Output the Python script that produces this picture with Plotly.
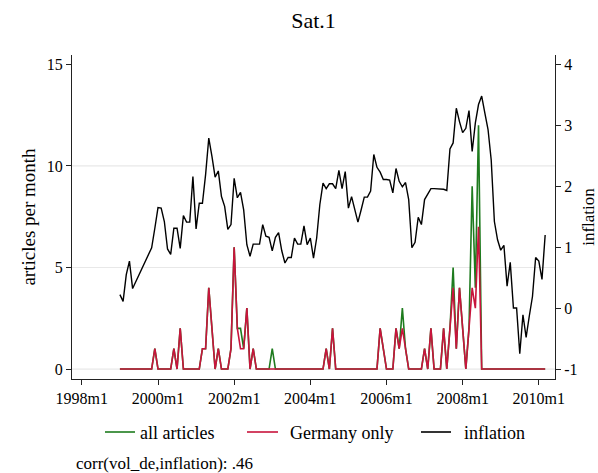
import pandas as pd
import plotly.graph_objects as go

# ---------------- data (monthly, starting 1999m1) ----------------
start_month = "1999-01"

all_articles = [
    0, 0, 0, 0, 0, 0, 0, 0, 0, 0, 0, 1,      # 1999
    0, 0, 0, 0, 0, 1, 0, 2, 0, 0, 0, 0,      # 2000
    0, 0, 1, 1, 4, 2, 0, 1, 0, 0, 0, 1,      # 2001
    6, 2, 2, 1, 3, 0, 1, 0, 0, 0, 0, 0,      # 2002
    1, 0, 0, 0, 0, 0, 0, 0, 0, 0, 0, 0,      # 2003
    0, 0, 0, 0, 0, 1, 0, 2, 0, 0, 0, 0,      # 2004
    0, 0, 0, 0, 0, 0, 0, 0, 0, 0, 2, 1,      # 2005
    0, 0, 0, 2, 1, 3, 1, 0, 0, 0, 0, 0,      # 2006
    1, 0, 2, 0, 0, 0, 2, 0, 2, 5, 1, 4,      # 2007
    2, 0, 2, 9, 4, 12, 0, 0, 0, 0, 0, 0,     # 2008
    0, 0, 0, 0, 0, 0, 0, 0, 0, 0, 0, 0,      # 2009
    0, 0, 0,                                 # 2010
]

germany_only = [
    0, 0, 0, 0, 0, 0, 0, 0, 0, 0, 0, 1,      # 1999
    0, 0, 0, 0, 0, 1, 0, 2, 0, 0, 0, 0,      # 2000
    0, 0, 1, 1, 4, 2, 0, 1, 0, 0, 0, 1,      # 2001
    6, 2, 1, 1, 3, 0, 1, 0, 0, 0, 0, 0,      # 2002
    0, 0, 0, 0, 0, 0, 0, 0, 0, 0, 0, 0,      # 2003
    0, 0, 0, 0, 0, 1, 0, 2, 0, 0, 0, 0,      # 2004
    0, 0, 0, 0, 0, 0, 0, 0, 0, 0, 2, 1,      # 2005
    0, 0, 0, 2, 1, 2, 1, 0, 0, 0, 0, 0,      # 2006
    1, 0, 2, 0, 0, 0, 2, 0, 2, 4, 1, 4,      # 2007
    2, 0, 2, 4, 3, 7, 0, 0, 0, 0, 0, 0,      # 2008
    0, 0, 0, 0, 0, 0, 0, 0, 0, 0, 0, 0,      # 2009
    0, 0, 0,                                 # 2010
]

inflation = [
    0.22, 0.11, 0.55, 0.77, 0.32, None, None, None, None, None, 0.99, 1.31,   # 1999
    1.65, 1.64, 1.42, 0.97, 0.88, 1.31, 1.31, 0.98, 1.52, 1.41, 1.41, 2.16,   # 2000
    1.30, 1.72, 1.72, 2.19, 2.79, 2.49, 2.15, 2.25, 1.83, 1.67, 1.29, 1.37,   # 2001
    2.13, 1.81, 1.90, 1.61, 1.04, 0.85, 1.05, 1.05, 1.05, 1.37, 1.18, 1.16,   # 2002
    0.94, 1.16, 1.24, 0.94, 0.74, 0.83, 0.83, 1.15, 1.05, 1.05, 1.35, 1.04,   # 2003
    1.15, 0.82, 1.15, 1.70, 2.05, 1.96, 2.04, 2.04, 1.96, 2.26, 1.96, 2.24,   # 2004
    1.64, 1.83, 1.63, 1.41, 1.61, 1.82, 1.82, 1.92, 2.52, 2.31, 2.23, 2.11,   # 2005
    2.11, 2.10, 1.89, 2.29, 2.08, 1.99, 2.06, 1.78, 0.99, 1.08, 1.49, 1.37,   # 2006
    1.78, 1.87, 1.96, 1.96, 1.96, 1.95, 1.95, 1.93, 2.61, 2.71, 3.28, 3.06,   # 2007
    2.88, 2.95, 3.24, 2.57, 3.04, 3.34, 3.48, 3.20, 2.93, 2.43, 1.42, 1.12,   # 2008
    0.95, 1.03, 0.36, 0.75, 0.00, 0.00, -0.75, -0.11, -0.48, -0.13, 0.19, 0.83,  # 2009
    0.77, 0.47, 1.20,                                                          # 2010
]

series_names = ["all articles", "Germany only", "inflation"]
x_tick_labels = ["1998m1", "2000m1", "2002m1", "2004m1", "2006m1", "2008m1", "2010m1"]
y_left_ticks = [0, 5, 10, 15]
y_left_grid = [0, 5, 10]
y_right_ticks = [-1, 0, 1, 2, 3, 4]

title_text = "Sat.1"
note_text = "corr(vol_de,inflation): .46"


# ---------------- helpers ----------------
def stata_month(year, month):
    return (year - 1960) * 12 + (month - 1)


periods = pd.period_range(start_month, periods=len(inflation), freq="M")
months = [stata_month(p.year, p.month) for p in periods]
x_tick_vals = [stata_month(int(s.split("m")[0]), int(s.split("m")[1])) for s in x_tick_labels]

FONT = "Liberation Serif"
GREEN = "#1e7b1e"
RED = "#c8143c"
COLORS = [GREEN, RED, "black"]
FS = 16

W, H = 598, 473
ML, MR, MT, MB = 72, 43, 55, 94
PW, PH = W - ML - MR, H - MT - MB


def px_to_paper(px, py):
    return (px - ML) / PW, (H - MB - py) / PH


fig = go.Figure()
fig.add_trace(go.Scatter(x=months, y=all_articles, mode="lines", name=series_names[0],
                         line=dict(color=COLORS[0], width=1.6), yaxis="y"))
fig.add_trace(go.Scatter(x=months, y=germany_only, mode="lines", name=series_names[1],
                         line=dict(color=COLORS[1], width=1.6), yaxis="y"))
fig.add_trace(go.Scatter(x=months, y=inflation, mode="lines", name=series_names[2],
                         line=dict(color=COLORS[2], width=1.4), yaxis="y2", connectgaps=True))

for g in y_left_grid:
    fig.add_shape(type="line", xref="paper", x0=0, x1=1, yref="y", y0=g, y1=g,
                  line=dict(color="#e8e8e8", width=1.2), layer="below")

# legend drawn below the plot (key line + label), laid out like the original
legend_layout = [(105, 135, 138), (247, 278, 288), (421, 451, 462)]
leg_y_px = 432
for name, color, (lx0, lx1, tx) in zip(series_names, COLORS, legend_layout):
    x0, yy = px_to_paper(lx0, leg_y_px)
    x1, _ = px_to_paper(lx1, leg_y_px)
    xt, yt = px_to_paper(tx, leg_y_px + 1)
    fig.add_shape(type="line", xref="paper", yref="paper", x0=x0, x1=x1, y0=yy, y1=yy,
                  line=dict(color=color, width=1.6))
    fig.add_annotation(text=name, xref="paper", yref="paper", x=xt, y=yt,
                       xanchor="left", yanchor="middle", showarrow=False,
                       font=dict(family=FONT, size=18, color="black"))

fig.update_layout(
    width=W, height=H,
    margin=dict(l=ML, r=MR, t=MT, b=MB, autoexpand=False),
    paper_bgcolor="white", plot_bgcolor="white",
    font=dict(family=FONT, size=FS, color="black"),
    title=dict(text=title_text, x=0.5, xref="paper", y=1 - 20 / H, yanchor="middle",
               font=dict(family=FONT, size=22, color="black")),
    showlegend=False,
    xaxis=dict(range=[452.9, 605.1], tickvals=x_tick_vals, ticktext=x_tick_labels,
               showgrid=False, zeroline=False, showline=True, linecolor="#222", linewidth=1,
               ticks="outside", ticklen=5, tickcolor="#222", tickfont=dict(size=FS),
               automargin=False),
    yaxis=dict(range=[-0.49, 15.46], tickvals=y_left_ticks, ticktext=[str(v) for v in y_left_ticks],
               showgrid=False, zeroline=False, showline=True, linecolor="#222", linewidth=1,
               ticks="outside", ticklen=5, tickcolor="#222", tickfont=dict(size=FS),
               title=dict(text="articles per month", font=dict(size=19), standoff=6),
               automargin=False),
    yaxis2=dict(range=[-1.164, 4.153], overlaying="y", side="right", tickvals=y_right_ticks,
                ticktext=[str(v) for v in y_right_ticks],
                showgrid=False, zeroline=False, showline=True, linecolor="#222", linewidth=1,
                ticks="outside", ticklen=5, tickcolor="#222", tickfont=dict(size=FS),
                title=dict(text="inflation", font=dict(size=17), standoff=6),
                automargin=False),
)

nx, ny = px_to_paper(74, 463)
fig.add_annotation(text=note_text, xref="paper", yref="paper", x=nx, y=ny,
                   xanchor="left", yanchor="middle", showarrow=False,
                   font=dict(family=FONT, size=17, color="black"))

fig.write_html("out.html", config={"displayModeBar": False},
               post_script="document.body.style.margin='0';document.body.style.padding='0';")
